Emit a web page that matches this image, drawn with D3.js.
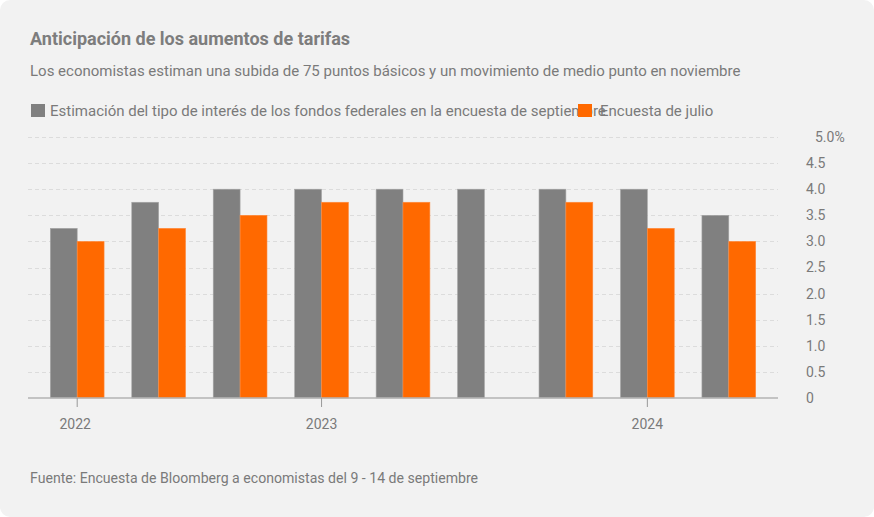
<!DOCTYPE html>
<html>
<head>
<meta charset="utf-8">
<script src="https://cdn.jsdelivr.net/npm/d3@7"></script>
<style>
  html, body { margin: 0; padding: 0; background: #ffffff; }
  svg { display: block; font-family: Roboto, "Noto Sans", sans-serif; }
</style>
</head>
<body>
<svg id="chart" width="874" height="517"></svg>
<script>
// ---- data ----
const categories = ["P1", "P2", "P3", "P4", "P5", "P6", "P7", "P8", "P9"];
const seriesNames = ["Estimación del tipo de interés de los fondos federales en la encuesta de septiembre", "Encuesta de julio"];
const septiembre = [3.25, 3.75, 4.0, 4.0, 4.0, 4.0, 4.0, 4.0, 3.5];
const julio = [3.0, 3.25, 3.5, 3.75, 3.75, null, 3.75, 3.25, 3.0];
const xTickCategories = ["P1", "P4", "P8"];
const xTickLabels = ["2022", "2023", "2024"];
const yTicks = [0, 0.5, 1.0, 1.5, 2.0, 2.5, 3.0, 3.5, 4.0, 4.5, 5.0];
const yTickLabels = ["0", "0.5", "1.0", "1.5", "2.0", "2.5", "3.0", "3.5", "4.0", "4.5", "5.0%"];
const colors = ["#808080", "#ff6900"];
const title = "Anticipación de los aumentos de tarifas";
const subtitle = "Los economistas estiman una subida de 75 puntos básicos y un movimiento de medio punto en noviembre";
const source = "Fuente: Encuesta de Bloomberg a economistas del 9 - 14 de septiembre";

// ---- layout ----
const W = 874, H = 517;
const svg = d3.select("#chart");
const textColor = "#7a7a7a";

svg.append("rect").attr("x", 0).attr("y", 0).attr("width", W).attr("height", H)
  .attr("rx", 10).attr("ry", 10).attr("fill", "#f2f2f2");

svg.append("text").attr("x", 30).attr("y", 45).attr("fill", "#7d7d7d")
  .attr("font-size", 18).attr("font-weight", "bold").text(title);
svg.append("text").attr("x", 30).attr("y", 76).attr("fill", textColor)
  .attr("font-size", 15).text(subtitle);

// legend
const legendX = [31, 578];
const legendTextX = [50, 600];
seriesNames.forEach((name, i) => {
  svg.append("text").attr("x", legendTextX[i]).attr("y", 116).attr("fill", textColor)
    .attr("font-size", 15).text(name);
});
seriesNames.forEach((name, i) => {
  svg.append("rect").attr("x", legendX[i]).attr("y", 104).attr("width", 14).attr("height", 13)
    .attr("fill", colors[i]);
});

const plot = { left: 28, right: 778, top: 137, bottom: 398 };

const y = d3.scaleLinear().domain([0, 5]).range([plot.bottom, plot.top]);
const x0 = d3.scaleBand().domain(categories).range([plot.left, plot.right])
  .paddingInner(0.34).paddingOuter(0.274);
const x1 = d3.scaleBand().domain([0, 1]).range([0, x0.bandwidth()]).padding(0);

// gridlines
svg.append("g").selectAll("line").data(yTicks.filter(d => d > 0)).join("line")
  .attr("x1", plot.left).attr("x2", plot.right)
  .attr("y1", d => Math.round(y(d)) + 0.5).attr("y2", d => Math.round(y(d)) + 0.5)
  .attr("stroke", "#dcdcdc").attr("stroke-width", 1).attr("stroke-dasharray", "4,3");

// y axis (right side labels)
const yAxis = d3.axisRight(y).tickValues(yTicks).tickSize(0)
  .tickFormat((d, i) => yTickLabels[i]);
const yG = svg.append("g").attr("transform", `translate(${806},0)`).call(yAxis);
yG.select(".domain").remove();
yG.selectAll("text").attr("x", 0).attr("fill", textColor).attr("font-size", 14)
  .attr("font-family", "Roboto, sans-serif")
  .attr("dx", (d, i) => i === yTicks.length - 1 ? 9 : 0);

// bars
const seriesData = [septiembre, julio];
const groups = svg.append("g").selectAll("g").data(categories).join("g")
  .attr("transform", d => `translate(${x0(d)},0)`);
groups.selectAll("rect")
  .data((d, ci) => seriesData.map((s, si) => ({ si, v: s[ci] })).filter(e => e.v != null))
  .join("rect")
  .attr("x", e => x1(e.si))
  .attr("width", x1.bandwidth())
  .attr("y", e => y(e.v))
  .attr("height", e => y(0) - y(e.v))
  .attr("fill", e => colors[e.si])
  .attr("stroke", e => e.si === 0 ? "#a6a6a6" : "#ff8a3d")
  .attr("stroke-width", 0.6);

// x axis
const xAxis = d3.axisBottom(x0).tickValues(xTickCategories).tickSize(9).tickPadding(12)
  .tickFormat((d, i) => xTickLabels[i]);
const xG = svg.append("g").attr("transform", `translate(0,${plot.bottom})`).call(xAxis);
xG.select(".domain").attr("stroke", "#b3b3b3").attr("stroke-width", 1.5)
  .attr("d", `M${plot.left},0H${plot.right}`);
xG.selectAll(".tick line").attr("stroke", "#999");
xG.selectAll(".tick text").attr("fill", textColor).attr("font-size", 14)
  .attr("font-family", "Roboto, sans-serif")
  .attr("dx", (d, i) => i === 0 ? -2 : 0);

// source
svg.append("text").attr("x", 30).attr("y", 483).attr("fill", textColor)
  .attr("font-size", 14.1).text(source);
</script>
</body>
</html>
